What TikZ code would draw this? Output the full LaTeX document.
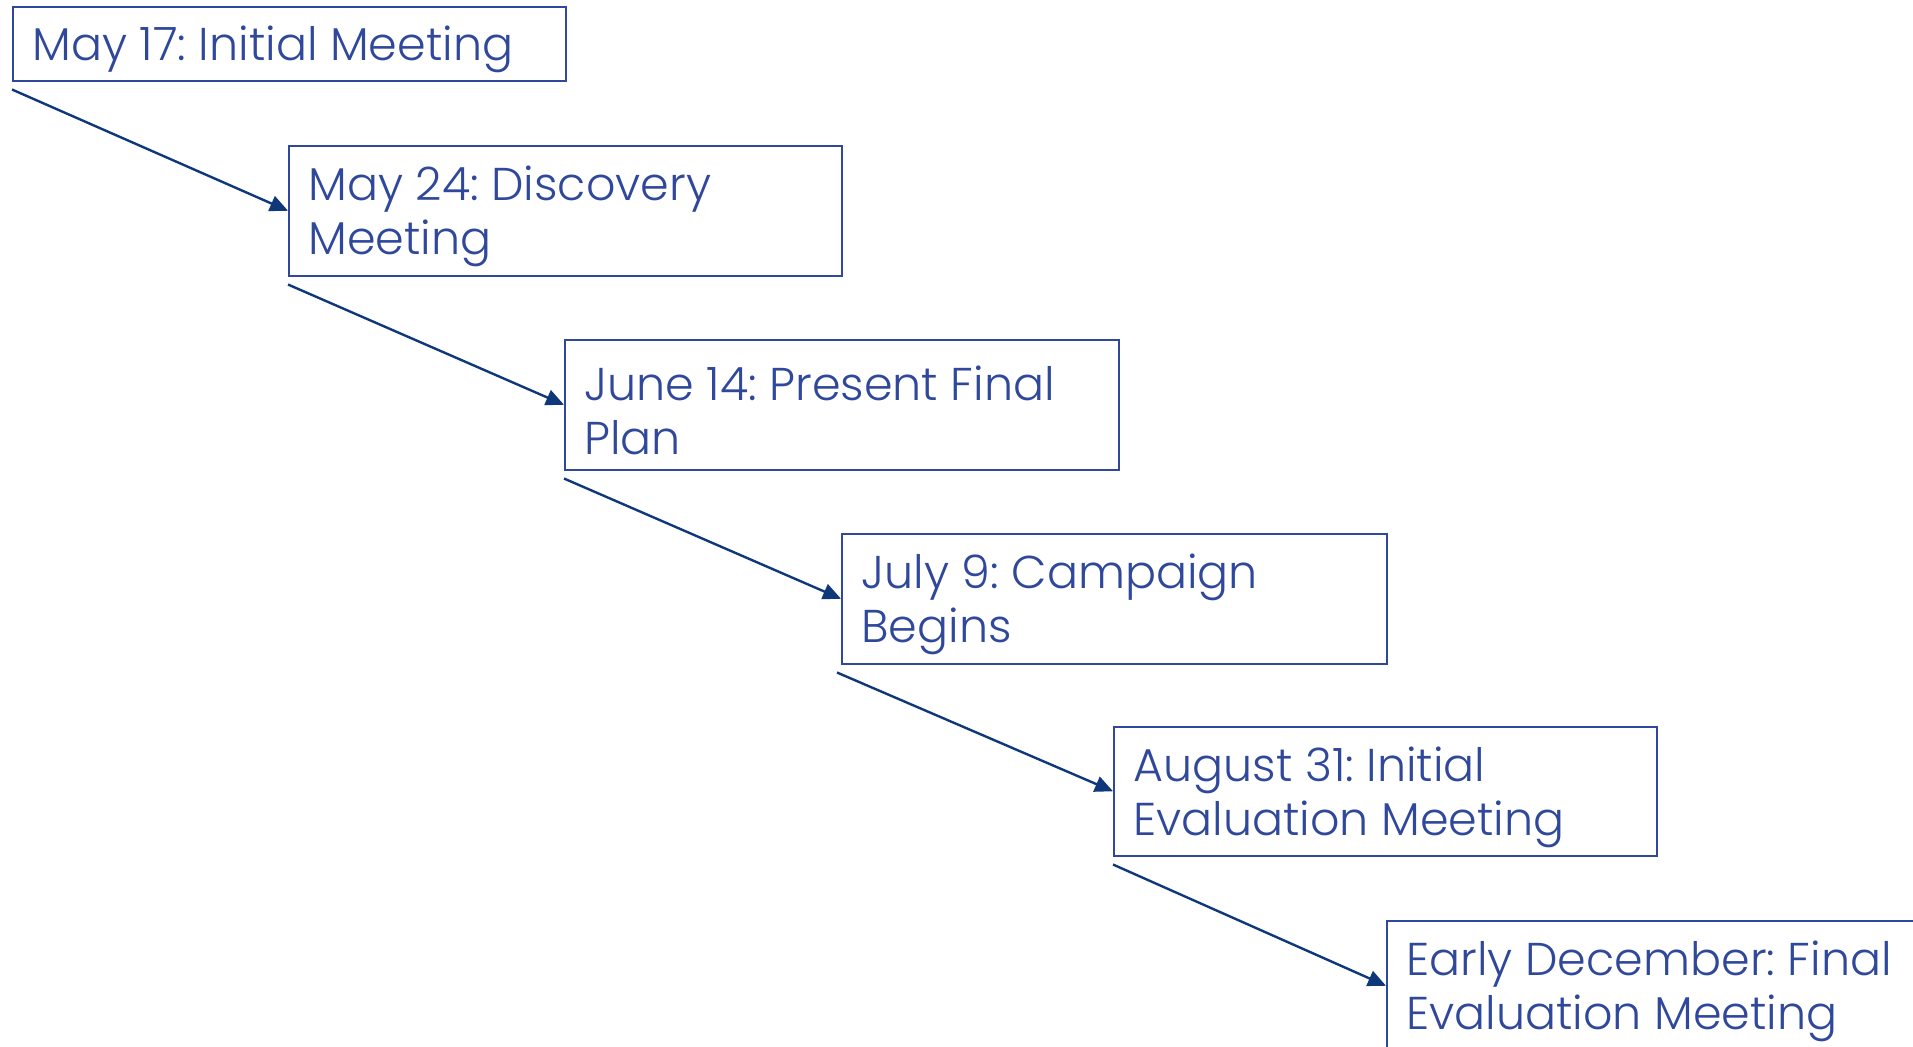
\documentclass[tikz,border=0pt]{standalone}
\usepackage{fontspec}
\setmainfont{Poppins}[UprightFont=* Light]
\usetikzlibrary{arrows.meta}
\definecolor{boxblue}{RGB}{47,72,155}
\definecolor{arrowblue}{RGB}{14,56,122}
\begin{document}
\begin{tikzpicture}[
  ev/.style={draw=boxblue, line width=0.75pt, anchor=north west, inner sep=0pt},
  lbl/.style={text=boxblue, anchor=west, align=left, inner sep=0pt,
    font=\fontsize{23}{27}\selectfont\frenchspacing},
  conn/.style={draw=arrowblue, line width=1.2pt, -{Triangle[length=9pt,width=8pt]}}
]
\useasboundingbox (0,0) rectangle (956.5pt,-523pt);
\clip (0,0) rectangle (956.5pt,-523pt);
\node[ev, minimum width=276.5pt, minimum height=37pt] (b1) at (6pt,-3pt) {};
\node[ev, minimum width=276.5pt, minimum height=65pt] (b2) at (144pt,-72.5pt) {};
\node[ev, minimum width=277pt, minimum height=65pt] (b3) at (282pt,-169.5pt) {};
\node[ev, minimum width=272.5pt, minimum height=65pt] (b4) at (420.5pt,-266.5pt) {};
\node[ev, minimum width=271.5pt, minimum height=64.5pt] (b5) at (556.5pt,-363pt) {};
\node[ev, minimum width=300pt, minimum height=65pt] (b6) at (693pt,-460pt) {};
\node[lbl] (t1) at ([xshift=10pt,yshift=-3pt]b1.west) {May 17: Initial Meeting};
\node[lbl] (t2) at ([xshift=10pt,yshift=-3pt]b2.west) {May 24: Discovery\\Meeting};
\node[lbl] (t3) at ([xshift=10pt,yshift=-3pt]b3.west) {June 14: Present Final\\Plan};
\node[lbl] (t4) at ([xshift=10pt,yshift=-3pt]b4.west) {July 9: Campaign\\Begins};
\node[lbl] (t5) at ([xshift=10pt,yshift=-3pt]b5.west) {August 31: Initial\\Evaluation Meeting};
\node[lbl] (t6) at ([xshift=10pt,yshift=-3pt]b6.west) {Early December: Final\\Evaluation Meeting};
\draw[conn] ([yshift=-4pt]b1.south west) -- (b2.west);
\draw[conn] ([yshift=-4pt]b2.south west) -- (b3.west);
\draw[conn] ([yshift=-4pt]b3.south west) -- (b4.west);
\draw[conn] ([yshift=-4pt,xshift=-2pt]b4.south west) -- (b5.west);
\draw[conn] ([yshift=-4pt]b5.south west) -- (b6.west);
\end{tikzpicture}
\end{document}
